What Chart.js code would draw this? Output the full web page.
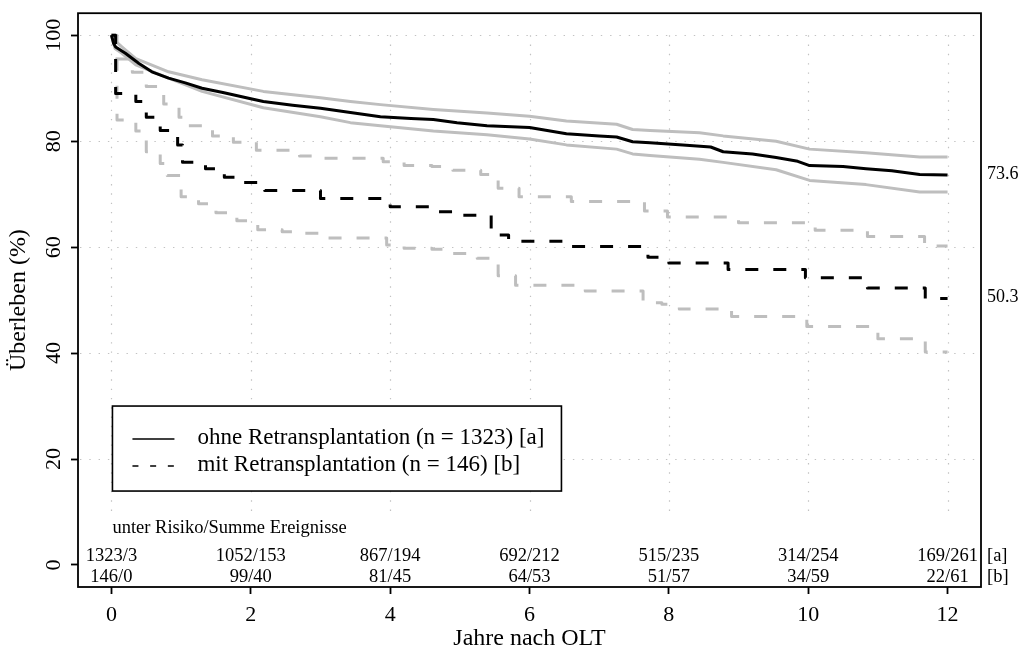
<!DOCTYPE html>
<html>
<head>
<meta charset="utf-8">
<title>Überleben nach OLT</title>
<script src="https://cdn.jsdelivr.net/npm/chart.js@4.4.0/dist/chart.umd.min.js"></script>
<style>
  html, body { margin: 0; padding: 0; background: #fff; }
  canvas { display: block; }
</style>
</head>
<body>
<canvas id="kmChart" width="1022" height="654"></canvas>
<script>
/* ---- DATA ---- */
const xTicks = [0, 2, 4, 6, 8, 10, 12];
const yTicks = [0, 20, 40, 60, 80, 100];
const gridRows = [20, 40, 60, 80, 100];

// ohne Retransplantation [a] — KM estimate with 95% CI
const ohneT     = [0, 0.03, 0.06, 0.2, 0.39, 0.58, 0.82, 1.06, 1.3, 1.6, 2.0, 2.18, 2.6, 3.0, 3.43, 3.86, 4.3, 4.62, 4.96, 5.39, 6.0, 6.53, 7.0, 7.25, 7.48, 7.73, 8.2, 8.6, 8.78, 9.2, 9.54, 9.85, 10.02, 10.5, 10.83, 11.2, 11.6, 12.0];
const ohneS     = [100, 98.5, 97.8, 96.6, 94.7, 93.1, 91.9, 91.0, 90.0, 89.2, 88.0, 87.5, 86.8, 86.2, 85.4, 84.6, 84.3, 84.1, 83.5, 82.9, 82.6, 81.4, 81.0, 80.8, 79.9, 79.7, 79.3, 78.9, 78.0, 77.6, 76.9, 76.2, 75.4, 75.2, 74.8, 74.4, 73.7, 73.6];
const ohneCiT   = [0, 0.05, 0.15, 0.35, 0.82, 1.3, 2.18, 3.0, 3.43, 3.86, 4.62, 5.39, 6.0, 6.53, 7.25, 7.48, 7.73, 8.44, 8.78, 9.54, 10.02, 10.83, 11.6, 12.0];
const ohneUpper = [100, 99.0, 97.8, 95.6, 93.1, 91.6, 89.4, 88.2, 87.5, 86.9, 86.0, 85.3, 84.7, 83.8, 83.2, 82.2, 82.0, 81.6, 81.0, 80.0, 78.5, 77.8, 77.0, 77.0];
const ohneLower = [100, 97.5, 96.6, 94.4, 91.9, 89.4, 86.3, 84.6, 83.5, 82.9, 81.9, 81.2, 80.4, 79.3, 78.5, 77.6, 77.3, 76.6, 76.0, 74.6, 72.6, 71.8, 70.4, 70.4];

// mit Retransplantation [b] — step function and 95% CI
const mitT      = [0, 0.06, 0.35, 0.5, 0.7, 0.95, 1.02, 1.35, 1.62, 1.9, 2.2, 3.0, 4.0, 4.6, 5.0, 5.45, 5.7, 6.6, 7.7, 8.0, 8.85, 9.96, 10.85, 11.68, 12.0];
const mitS      = [100, 89.0, 87.5, 84.5, 82.0, 79.3, 76.0, 74.8, 73.2, 72.2, 70.7, 69.2, 67.6, 66.7, 66.0, 62.3, 61.1, 60.1, 58.1, 57.0, 55.8, 54.2, 52.3, 50.3, 50.3];
const mitUpT    = [0, 0.06, 0.3, 0.5, 0.75, 0.97, 1.1, 1.45, 1.75, 2.08, 2.7, 3.0, 3.9, 4.2, 4.6, 4.9, 5.3, 5.55, 5.85, 6.6, 7.65, 7.98, 9.0, 10.1, 10.85, 11.67, 12.0];
const mitUpper  = [100, 95.5, 93.0, 90.3, 87.0, 84.5, 82.9, 81.0, 79.8, 78.3, 77.2, 76.8, 76.1, 75.4, 75.2, 74.5, 73.7, 71.1, 69.5, 68.6, 66.8, 65.7, 64.6, 63.2, 62.0, 60.2, 60.2];
const mitLoT    = [0, 0.08, 0.35, 0.5, 0.7, 0.8, 1.0, 1.25, 1.5, 1.8, 2.1, 2.45, 2.7, 3.1, 3.95, 4.2, 4.6, 4.9, 5.25, 5.55, 5.8, 6.8, 7.63, 7.9, 8.15, 8.9, 9.98, 11.0, 11.68, 12.0];
const mitLower  = [100, 84.0, 81.9, 78.0, 75.8, 73.5, 69.5, 68.2, 66.5, 65.0, 63.3, 62.9, 62.6, 61.7, 60.4, 59.8, 59.6, 58.8, 57.9, 54.6, 52.8, 51.7, 49.5, 49.2, 48.3, 46.9, 45.0, 42.7, 40.2, 40.2];

// risk table: unter Risiko / Summe Ereignisse
const riskT = [0, 2, 4, 6, 8, 10, 12];
const riskA = ['1323/3', '1052/153', '867/194', '692/212', '515/235', '314/254', '169/261'];
const riskB = ['146/0', '99/40', '81/45', '64/53', '51/57', '34/59', '22/61'];

const legendLabels = ['ohne Retransplantation (n = 1323) [a]', 'mit Retransplantation (n = 146) [b]'];
const endLabels = ['73.6', '50.3'];

/* ---- STYLE ---- */
const FONT = '"Liberation Serif", "Times New Roman", serif';
const GRAY = '#bebebe';
const DASH = [13, 15];

const pts = (ts, vs) => ts.map((t, i) => ({ x: t, y: vs[i] }));

function curve(ts, vs, color, dashed, stepped) {
  return {
    data: pts(ts, vs),
    borderColor: color,
    borderWidth: 3,
    borderDash: dashed ? DASH : [],
    borderCapStyle: 'butt',
    borderJoinStyle: 'round',
    pointRadius: 0,
    fill: false,
    tension: 0,
    stepped: stepped
  };
}

/* ---- OVERLAY: dotted grid, legend, frame, texts ---- */
const overlay = {
  id: 'overlay',
  beforeDatasetsDraw(chart) {
    const { ctx, chartArea: a, scales: { x, y } } = chart;
    ctx.save();
    ctx.strokeStyle = '#c2c2c2';
    ctx.lineWidth = 1.2;
    ctx.setLineDash([1.4, 7.9]);
    gridRows.forEach(v => {
      const py = Math.round(y.getPixelForValue(v)) + 0.5;
      ctx.beginPath(); ctx.moveTo(a.left + 2, py); ctx.lineTo(a.right - 2, py); ctx.stroke();
    });
    xTicks.forEach(v => {
      const px = Math.round(x.getPixelForValue(v)) + 0.5;
      ctx.beginPath(); ctx.moveTo(px, y.getPixelForValue(100)); ctx.lineTo(px, y.getPixelForValue(9)); ctx.stroke();
    });
    ctx.restore();
  },
  afterDatasetsDraw(chart) {
    const { ctx, scales: { x, y } } = chart;
    // legend box anchored at (0, 30)
    const lx = x.getPixelForValue(0) + 1, ly = y.getPixelForValue(30);
    const lw = 449, lh = 85;
    ctx.save();
    ctx.fillStyle = '#fff';
    ctx.fillRect(lx, ly, lw, lh);
    ctx.strokeStyle = '#000';
    ctx.lineWidth = 1.6;
    ctx.strokeRect(lx, ly, lw, lh);
    ctx.lineWidth = 1.5;
    const rows = [ly + 33, ly + 60];
    rows.forEach((ry, i) => {
      ctx.setLineDash(i === 0 ? [] : [6, 11.7]);
      ctx.beginPath(); ctx.moveTo(lx + 20, ry); ctx.lineTo(lx + 62, ry); ctx.stroke();
    });
    ctx.setLineDash([]);
    ctx.fillStyle = '#000';
    ctx.font = '23px ' + FONT;
    ctx.textAlign = 'left';
    ctx.textBaseline = 'middle';
    legendLabels.forEach((t, i) => ctx.fillText(t, lx + 85, rows[i] - 1));
    ctx.restore();
  },
  afterDraw(chart) {
    const { ctx, chartArea: a, scales: { x, y } } = chart;
    ctx.save();
    // frame
    ctx.strokeStyle = '#000';
    ctx.lineWidth = 1.8;
    ctx.strokeRect(a.left, a.top, a.right - a.left, a.bottom - a.top);
    // risk table
    ctx.fillStyle = '#000';
    ctx.textBaseline = 'middle';
    ctx.font = '18.5px ' + FONT;
    ctx.textAlign = 'left';
    ctx.fillText('unter Risiko/Summe Ereignisse', x.getPixelForValue(0) + 1, 528);
    ctx.textAlign = 'center';
    riskT.forEach((t, i) => {
      const px = x.getPixelForValue(t);
      ctx.fillText(riskA[i], px, 556);
      ctx.fillText(riskB[i], px, 577);
    });
    ctx.textAlign = 'left';
    ctx.fillText('[a]', a.right + 6, 556);
    ctx.fillText('[b]', a.right + 6, 577);
    // end-of-curve values
    ctx.font = '18px ' + FONT;
    ctx.fillText(endLabels[0], a.right + 6, y.getPixelForValue(ohneS[ohneS.length - 1]) - 1);
    ctx.fillText(endLabels[1], a.right + 6, y.getPixelForValue(mitS[mitS.length - 1]) - 1);
    ctx.restore();
  }
};

const ctx = document.getElementById('kmChart');
new Chart(ctx, {
  type: 'line',
  data: {
    datasets: [
      curve(ohneT, ohneS, '#000', false, false),
      curve(mitT, mitS, '#000', true, true),
      curve(ohneCiT, ohneUpper, GRAY, false, false),
      curve(ohneCiT, ohneLower, GRAY, false, false),
      curve(mitUpT, mitUpper, GRAY, true, true),
      curve(mitLoT, mitLower, GRAY, true, true)
    ]
  },
  options: {
    responsive: false,
    animation: false,
    events: [],
    layout: { padding: { left: 0, top: 8, right: 41, bottom: 0 } },
    plugins: { legend: { display: false }, tooltip: { enabled: false } },
    scales: {
      x: {
        type: 'linear', min: -0.48, max: 12.48,
        afterBuildTicks: s => { s.ticks = xTicks.map(v => ({ value: v })); },
        afterFit: s => { s.height = 67; },
        border: { display: false },
        grid: { drawOnChartArea: false, drawTicks: true, tickLength: 7, tickColor: '#000', tickWidth: 1.8 },
        ticks: { color: '#000', font: { family: FONT, size: 22 }, padding: 8, maxRotation: 0, autoSkip: false },
        title: { display: true, text: 'Jahre nach OLT', color: '#000', font: { family: FONT, size: 24 }, padding: { top: 0, bottom: 1 } }
      },
      y: {
        type: 'linear', min: -4.16, max: 104.16,
        afterBuildTicks: s => { s.ticks = yTicks.map(v => ({ value: v })); },
        afterFit: s => { s.width = 78; },
        border: { display: false },
        grid: { drawOnChartArea: false, drawTicks: true, tickLength: 7, tickColor: '#000', tickWidth: 1.8 },
        ticks: { color: '#000', font: { family: FONT, size: 22 }, padding: 0, minRotation: 90, maxRotation: 90, crossAlign: 'center', autoSkip: false },
        title: { display: true, text: 'Überleben (%)', color: '#000', font: { family: FONT, size: 24 }, padding: { top: 4, bottom: 0 } }
      }
    }
  },
  plugins: [overlay]
});
</script>
</body>
</html>
